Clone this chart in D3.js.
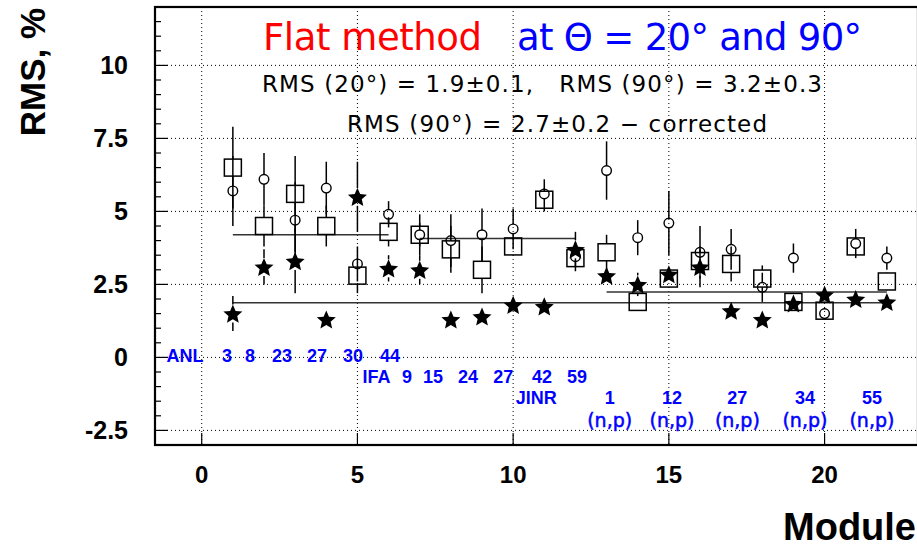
<!DOCTYPE html>
<html>
<head>
<meta charset="utf-8">
<script src="https://cdn.jsdelivr.net/npm/d3@7"></script>
<style>
  body { margin: 0; background: #fff; }
  svg { display: block; }
</style>
</head>
<body>
<svg id="chart" width="917" height="547"></svg>
<script>
// module numbers on the x axis
const modules = d3.range(1, 23);

// open circles (90 deg)
const circleVals = [5.7, 6.1, 4.7, 5.8, 3.2, 4.9, 4.2, 4.0, 4.2, 4.4, 5.6, 3.45, 6.4, 4.1, 4.6, 3.6, 3.7, 2.4, 3.4, 1.5, 3.9, 3.4];
const circleErrs = [1.2, 0.9, 1.3, 0.9, 0.6, 0.45, 0.7, 0.9, 0.9, 0.7, 0.5, 0.5, 1.0, 0.6, 1.1, 0.9, 0.7, 0.5, 0.5, 0.2, 0.5, 0.4];

// open squares (90 deg, corrected)
const squareVals = [6.5, 4.5, 5.6, 4.5, 2.8, 4.3, 4.2, 3.7, 3.0, 3.8, 5.4, 3.4, 3.6, 1.9, 2.7, 3.3, 3.2, 2.7, 1.9, 1.6, 3.8, 2.6];
const squareErrs = [1.4, 0.7, 1.3, 0.7, 0.6, 0.5, 0.4, 0.8, 0.8, 0.3, 0.4, 0.3, 0.6, 0.2, 0.3, 0.4, 0.6, 0.45, 0.2, 0.2, 0.3, 0.3];

// filled stars (20 deg)
const starVals = [1.5, 3.1, 3.3, 1.3, 5.5, 3.05, 3.0, 1.3, 1.4, 1.8, 1.75, 3.7, 2.8, 2.5, 2.85, 3.1, 1.6, 1.3, 1.85, 2.15, 2.0, 1.9];
const starErrs = [0.6, 0.6, 1.1, 0.2, 1.2, 0.45, 0.5, 0.2, 0.2, 0.3, 0.2, 0.6, 0.3, 0.4, 0.3, 0.7, 0.2, 0.2, 0.2, 0.3, 0.2, 0.2];

// flat fits: [from module, to module, value]
const fitLines = [[1, 6, 4.2], [7, 12, 4.07], [1, 22, 1.87], [13, 22, 2.24]];

const xTicks = [0, 5, 10, 15, 20];
const yTicks = [-2.5, 0, 2.5, 5, 7.5, 10];

// blue lab / module labels: [text, x (module units)]
const labRow1 = [["ANL", -0.54], ["3", 0.81], ["8", 1.55], ["23", 2.58], ["27", 3.70], ["30", 4.86], ["44", 6.05]];
const labRow2 = [["IFA", 5.61], ["9", 6.59], ["15", 7.43], ["24", 8.55], ["27", 9.68], ["42", 10.93], ["59", 12.05]];
const labRow3 = [["JINR", 10.74], ["1", 13.1], ["12", 15.1], ["27", 17.2], ["34", 19.37], ["55", 21.52]];
const labRow4 = [["(n,p)", 13.1], ["(n,p)", 15.1], ["(n,p)", 17.2], ["(n,p)", 19.37], ["(n,p)", 21.52]];
const labRowY = [-0.16, -0.88, -1.6, -2.38];

const svg = d3.select("#chart");
const frame = { left: 155, right: 918, top: 7, bottom: 445 };

const x = d3.scaleLinear().domain([-1.5, 23]).range([frame.left, frame.right]);
const y = d3.scaleLinear().domain([-3, 12]).range([frame.bottom, frame.top]);

const bold = "'Liberation Sans', Arial, Helvetica, sans-serif";
const thin = "'DejaVu Sans', Verdana, sans-serif";

// dotted grid
const grid = svg.append("g").attr("stroke", "#000").attr("stroke-width", 1)
  .attr("stroke-dasharray", "1,3");
grid.selectAll(".gx").data(xTicks).enter().append("line")
  .attr("x1", d => x(d)).attr("x2", d => x(d))
  .attr("y1", frame.top).attr("y2", frame.bottom);
grid.selectAll(".gy").data(yTicks).enter().append("line")
  .attr("x1", frame.left).attr("x2", frame.right)
  .attr("y1", d => y(d)).attr("y2", d => y(d));

// ticks inside the frame
const yMinor = d3.range(-3, 12.01, 0.5);
svg.append("g").selectAll("line").data(yMinor).enter().append("line")
  .attr("x1", frame.left).attr("x2", d => frame.left + (Math.abs(d % 2.5) < 1e-6 ? 13 : 6))
  .attr("y1", d => y(d)).attr("y2", d => y(d))
  .attr("stroke", "#000").attr("stroke-width", 1.2);
svg.append("g").selectAll("line").data(xTicks).enter().append("line")
  .attr("x1", d => x(d)).attr("x2", d => x(d))
  .attr("y1", frame.bottom).attr("y2", frame.bottom - 12)
  .attr("stroke", "#000").attr("stroke-width", 1.2);

// tick labels
svg.append("g").selectAll("text").data(yTicks).enter().append("text")
  .attr("x", 128).attr("y", d => y(d)).attr("dy", "0.36em")
  .attr("text-anchor", "end")
  .style("font", "bold 25px " + bold)
  .text(d => d);
svg.append("g").selectAll("text").data(xTicks).enter().append("text")
  .attr("x", d => x(d)).attr("y", 483)
  .attr("text-anchor", "middle")
  .style("font", "bold 24px " + bold)
  .text(d => d);

// axis titles
svg.append("text")
  .attr("transform", "translate(45,72) rotate(-90)")
  .attr("text-anchor", "middle")
  .style("font", "bold 35px " + bold)
  .text("RMS, %");
svg.append("text")
  .attr("x", 916).attr("y", 540)
  .attr("text-anchor", "end")
  .style("font", "bold 38px " + bold)
  .text("Module");

// fit lines
svg.append("g").selectAll("line").data(fitLines).enter().append("line")
  .attr("x1", d => x(d[0])).attr("x2", d => x(d[1]))
  .attr("y1", d => y(d[2])).attr("y2", d => y(d[2]))
  .attr("stroke", "#333").attr("stroke-width", 1.5);

// error bars with a gap around the marker
function errorBars(vals, errs, half) {
  const segs = [];
  vals.forEach((v, i) => {
    const cx = x(modules[i]), cy = y(v);
    const yt = y(v + errs[i]), yb = y(v - errs[i]);
    if (yt < cy - half) segs.push([cx, yt, cy - half]);
    if (yb > cy + half) segs.push([cx, cy + half, yb]);
  });
  svg.append("g").selectAll("line").data(segs).enter().append("line")
    .attr("x1", d => d[0]).attr("x2", d => d[0])
    .attr("y1", d => d[1]).attr("y2", d => d[2])
    .attr("stroke", "#000").attr("stroke-width", 1.5);
}

errorBars(squareVals, squareErrs, 8.5);
errorBars(circleVals, circleErrs, 4.8);
errorBars(starVals, starErrs, 9);

svg.append("g").selectAll("rect").data(squareVals).enter().append("rect")
  .attr("x", (d, i) => x(modules[i]) - 8.5).attr("y", d => y(d) - 8.5)
  .attr("width", 17).attr("height", 17)
  .attr("fill", "none").attr("stroke", "#000").attr("stroke-width", 1.5);

svg.append("g").selectAll("circle").data(circleVals).enter().append("circle")
  .attr("cx", (d, i) => x(modules[i])).attr("cy", d => y(d)).attr("r", 4.8)
  .attr("fill", "none").attr("stroke", "#000").attr("stroke-width", 1.4);

// fatter five-point star, like the ROOT marker
const fatStar = {
  draw(ctx, size) {
    const r = Math.sqrt(size), ri = r * 0.46;
    for (let k = 0; k < 10; k++) {
      const a = -Math.PI / 2 + k * Math.PI / 5, rr = k % 2 ? ri : r;
      if (k === 0) ctx.moveTo(rr * Math.cos(a), rr * Math.sin(a));
      else ctx.lineTo(rr * Math.cos(a), rr * Math.sin(a));
    }
    ctx.closePath();
  }
};
const star = d3.symbol().type(fatStar).size(100);
svg.append("g").selectAll("path").data(starVals).enter().append("path")
  .attr("transform", (d, i) => "translate(" + x(modules[i]) + "," + (y(d) + 1) + ")")
  .attr("d", star).attr("fill", "#000");

// blue labels
[labRow1, labRow2, labRow3].forEach((row, r) => {
  svg.append("g").selectAll("text").data(row).enter().append("text")
    .attr("x", d => x(d[1])).attr("y", y(labRowY[r]))
    .attr("text-anchor", "middle").attr("fill", "#0000ff")
    .style("font", "bold 18px " + bold)
    .text(d => d[0]);
});
svg.append("g").selectAll("text").data(labRow4).enter().append("text")
  .attr("x", d => x(d[1])).attr("y", y(labRowY[3]))
  .attr("text-anchor", "middle").attr("fill", "#0000ff")
  .attr("stroke", "#0000ff").attr("stroke-width", 0.5)
  .style("font", "19px " + thin)
  .text(d => d[0]);

// titles
svg.append("text").attr("x", 263).attr("y", 50)
  .attr("fill", "#ff0000").attr("textLength", 219)
  .style("font", "37px " + thin).text("Flat method");
svg.append("text").attr("x", 517).attr("y", 50)
  .attr("fill", "#0000ff").attr("textLength", 345)
  .style("font", "37px " + thin).text("at \u0398 = 20\u00b0 and 90\u00b0");
svg.append("text").attr("x", 262).attr("y", 92)
  .attr("fill", "#000").attr("textLength", 560)
  .style("font", "23px " + thin).style("white-space", "pre")
  .text("RMS (20\u00b0) = 1.9\u00b10.1,   RMS (90\u00b0) = 3.2\u00b10.3");
svg.append("text").attr("x", 347).attr("y", 132)
  .attr("fill", "#000").attr("textLength", 420)
  .style("font", "23px " + thin)
  .text("RMS (90\u00b0) = 2.7\u00b10.2 \u2212 corrected");

// frame
svg.append("rect")
  .attr("x", frame.left).attr("y", frame.top)
  .attr("width", frame.right - frame.left).attr("height", frame.bottom - frame.top)
  .attr("fill", "none").attr("stroke", "#000").attr("stroke-width", 2.2);
</script>
</body>
</html>
